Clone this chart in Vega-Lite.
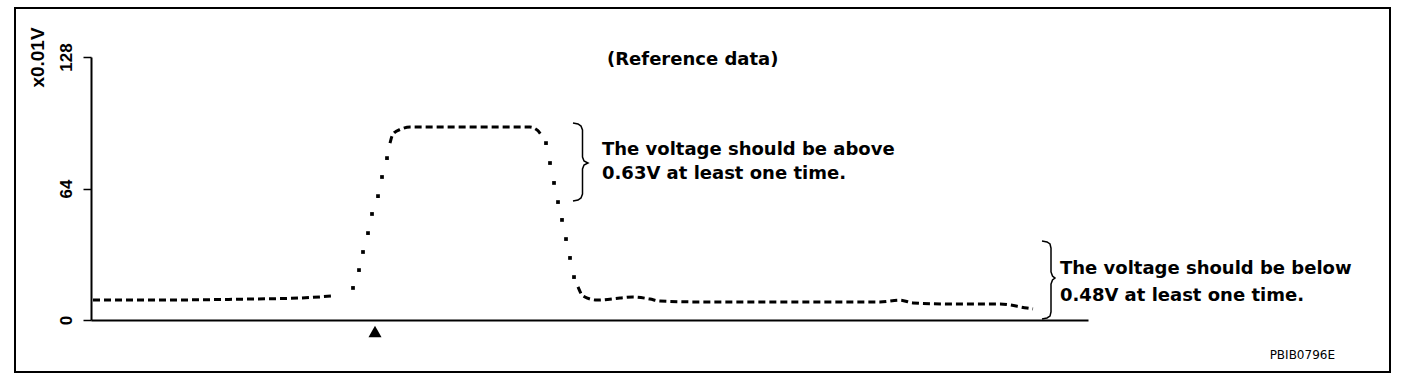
{
  "$schema": "https://vega.github.io/schema/vega-lite/v6.json",
  "width": 997,
  "height": 263,
  "autosize": "none",
  "padding": {"left": 91, "top": 57, "right": 320, "bottom": 64},
  "background": "white",
  "config": {"view": {"stroke": null}},
  "datasets": {
    "signal": [
      {"t": 2, "v": 9.7, "seg": "a", "kind": "dash"},
      {"t": 59, "v": 9.7, "seg": "a", "kind": "dash"},
      {"t": 159, "v": 10.2, "seg": "a", "kind": "dash"},
      {"t": 209, "v": 10.7, "seg": "a", "kind": "dash"},
      {"t": 242, "v": 11.7, "seg": "a", "kind": "dash"},
      {"t": 262, "v": 15.6, "seg": "up", "kind": "dot"},
      {"t": 268, "v": 24.3, "seg": "up", "kind": "dot"},
      {"t": 272, "v": 33.1, "seg": "up", "kind": "dot"},
      {"t": 277, "v": 42.3, "seg": "up", "kind": "dot"},
      {"t": 281, "v": 51.6, "seg": "up", "kind": "dot"},
      {"t": 287, "v": 60.3, "seg": "up", "kind": "dot"},
      {"t": 291, "v": 69.6, "seg": "up", "kind": "dot"},
      {"t": 296, "v": 78.8, "seg": "up", "kind": "dot"},
      {"t": 299, "v": 86.1, "seg": "b", "kind": "dash"},
      {"t": 302, "v": 90.5, "seg": "b", "kind": "dash"},
      {"t": 310, "v": 92.9, "seg": "b", "kind": "dash"},
      {"t": 319, "v": 93.9, "seg": "b", "kind": "dash"},
      {"t": 439, "v": 93.9, "seg": "b", "kind": "dash"},
      {"t": 446, "v": 92.5, "seg": "b", "kind": "dash"},
      {"t": 451, "v": 89.5, "seg": "b", "kind": "dash"},
      {"t": 455, "v": 86.1, "seg": "down", "kind": "dot"},
      {"t": 459, "v": 76.4, "seg": "down", "kind": "dot"},
      {"t": 463, "v": 66.7, "seg": "down", "kind": "dot"},
      {"t": 467, "v": 57.4, "seg": "down", "kind": "dot"},
      {"t": 471, "v": 48.7, "seg": "down", "kind": "dot"},
      {"t": 475, "v": 39.4, "seg": "down", "kind": "dot"},
      {"t": 479, "v": 30.2, "seg": "down", "kind": "dot"},
      {"t": 483, "v": 20.9, "seg": "down", "kind": "dot"},
      {"t": 487, "v": 16.1, "seg": "c", "kind": "dash"},
      {"t": 492, "v": 11.7, "seg": "c", "kind": "dash"},
      {"t": 506, "v": 9.7, "seg": "c", "kind": "dash"},
      {"t": 529, "v": 10.7, "seg": "c", "kind": "dash"},
      {"t": 542, "v": 11.2, "seg": "c", "kind": "dash"},
      {"t": 559, "v": 10.2, "seg": "c", "kind": "dash"},
      {"t": 569, "v": 9.2, "seg": "c", "kind": "dash"},
      {"t": 609, "v": 8.8, "seg": "c", "kind": "dash"},
      {"t": 789, "v": 8.8, "seg": "c", "kind": "dash"},
      {"t": 809, "v": 9.7, "seg": "c", "kind": "dash"},
      {"t": 822, "v": 8.3, "seg": "c", "kind": "dash"},
      {"t": 859, "v": 7.8, "seg": "c", "kind": "dash"},
      {"t": 909, "v": 7.8, "seg": "c", "kind": "dash"},
      {"t": 936, "v": 5.8, "seg": "c", "kind": "dash"},
      {"t": 942, "v": 5.4, "seg": "c", "kind": "dash"}
    ],
    "braces": [
      {"b": 1, "i": 1, "t": 482, "v": 95.9},
      {"b": 1, "i": 2, "t": 487, "v": 95.4},
      {"b": 1, "i": 3, "t": 490, "v": 94.4},
      {"b": 1, "i": 4, "t": 491.5, "v": 92.5},
      {"b": 1, "i": 5, "t": 491.5, "v": 79.3},
      {"b": 1, "i": 6, "t": 493, "v": 77.4},
      {"b": 1, "i": 7, "t": 497, "v": 76.4},
      {"b": 1, "i": 8, "t": 493, "v": 75.4},
      {"b": 1, "i": 9, "t": 491.5, "v": 73.5},
      {"b": 1, "i": 10, "t": 491.5, "v": 61.3},
      {"b": 1, "i": 11, "t": 490, "v": 59.4},
      {"b": 1, "i": 12, "t": 487, "v": 58.4},
      {"b": 1, "i": 13, "t": 482, "v": 57.9},
      {"b": 2, "i": 1, "t": 951, "v": 38.4},
      {"b": 2, "i": 2, "t": 956, "v": 38.0},
      {"b": 2, "i": 3, "t": 959, "v": 37.0},
      {"b": 2, "i": 4, "t": 960, "v": 35.0},
      {"b": 2, "i": 5, "t": 960, "v": 23.4},
      {"b": 2, "i": 6, "t": 961.5, "v": 21.4},
      {"b": 2, "i": 7, "t": 964, "v": 20.4},
      {"b": 2, "i": 8, "t": 961.5, "v": 19.5},
      {"b": 2, "i": 9, "t": 960, "v": 17.5},
      {"b": 2, "i": 10, "t": 960, "v": 3.9},
      {"b": 2, "i": 11, "t": 959, "v": 1.9},
      {"b": 2, "i": 12, "t": 956, "v": 1.0},
      {"b": 2, "i": 13, "t": 951, "v": 0.5}
    ],
    "notes": [
      {"t": 516, "v": 126.5, "text": "(Reference data)"},
      {"t": 511, "v": 82.7, "text": "The voltage should be above"},
      {"t": 511, "v": 71.0, "text": "0.63V at least one time."},
      {"t": 969, "v": 24.6, "text": "The voltage should be below"},
      {"t": 969, "v": 11.9, "text": "0.48V at least one time."}
    ],
    "code": [{"t": 1244, "v": -17.0, "text": "PBIB0796E"}],
    "marker": [{"t": 284, "v": -5.6}],
    "frame": [{"t1": -76, "t2": 1299, "v1": 151.8, "v2": -25.3}]
  },
  "layer": [
    {
      "data": {"name": "frame"},
      "mark": {"type": "rect", "fill": null, "stroke": "black", "strokeWidth": 2},
      "encoding": {
        "x": {"field": "t1", "type": "quantitative", "scale": {"domain": [0, 997], "nice": false, "zero": false}},
        "x2": {"field": "t2"},
        "y": {"field": "v1", "type": "quantitative", "scale": {"domain": [0, 128], "nice": false}},
        "y2": {"field": "v2"}
      }
    },
    {
      "data": {"name": "signal"},
      "transform": [{"filter": "datum.kind === 'dash'"}],
      "mark": {"type": "line", "color": "black", "strokeWidth": 3, "strokeDash": [7, 4], "interpolate": "monotone"},
      "encoding": {
        "x": {"field": "t", "type": "quantitative", "scale": {"domain": [0, 997], "nice": false, "zero": false},
              "axis": {"labels": false, "ticks": false, "title": null, "grid": false, "domainColor": "black", "domainWidth": 2}},
        "y": {"field": "v", "type": "quantitative", "scale": {"domain": [0, 128], "nice": false},
              "axis": {"values": [0, 64, 128], "grid": false, "labelAngle": -90, "labelAlign": "center", "labelBaseline": "bottom",
                       "labelFont": "Liberation Sans", "labelFontSize": 17, "labelFontWeight": "bold", "labelColor": "black", "labelPadding": 8,
                       "tickSize": 8, "tickColor": "black", "tickWidth": 1.5, "domainColor": "black", "domainWidth": 2,
                       "title": "x0.01V", "titleAngle": -90, "titleFont": "Liberation Sans", "titleFontSize": 19, "titleFontWeight": "bold",
                       "titleColor": "black", "titleAlign": "center", "titleBaseline": "bottom", "titleX": -44, "titleY": 0}},
        "detail": {"field": "seg"}
      }
    },
    {
      "data": {"name": "signal"},
      "transform": [{"filter": "datum.kind === 'dot'"}],
      "mark": {"type": "point", "shape": "square", "filled": true, "color": "black", "size": 14, "opacity": 1},
      "encoding": {
        "x": {"field": "t", "type": "quantitative"},
        "y": {"field": "v", "type": "quantitative"}
      }
    },
    {
      "data": {"name": "braces"},
      "mark": {"type": "line", "color": "black", "strokeWidth": 1.5},
      "encoding": {
        "x": {"field": "t", "type": "quantitative"},
        "y": {"field": "v", "type": "quantitative"},
        "detail": {"field": "b"},
        "order": {"field": "i"}
      }
    },
    {
      "data": {"name": "marker"},
      "mark": {"type": "point", "shape": "triangle-up", "filled": true, "color": "black", "size": 170, "opacity": 1},
      "encoding": {
        "x": {"field": "t", "type": "quantitative"},
        "y": {"field": "v", "type": "quantitative"}
      }
    },
    {
      "data": {"name": "notes"},
      "mark": {"type": "text", "align": "left", "baseline": "middle", "font": "DejaVu Sans", "fontSize": 18, "fontWeight": "bold", "color": "black"},
      "encoding": {
        "x": {"field": "t", "type": "quantitative"},
        "y": {"field": "v", "type": "quantitative"},
        "text": {"field": "text"}
      }
    },
    {
      "data": {"name": "code"},
      "mark": {"type": "text", "align": "right", "baseline": "middle", "font": "DejaVu Sans", "fontSize": 12, "color": "black"},
      "encoding": {
        "x": {"field": "t", "type": "quantitative"},
        "y": {"field": "v", "type": "quantitative"},
        "text": {"field": "text"}
      }
    }
  ]
}
